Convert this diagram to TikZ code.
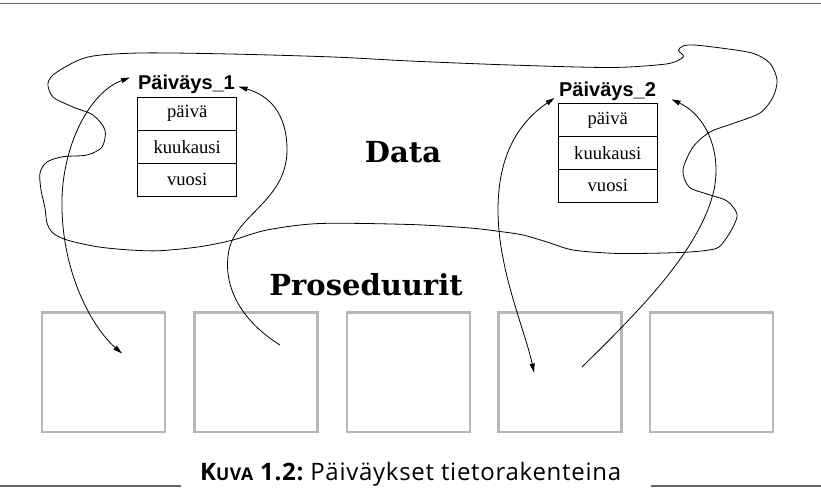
\documentclass[tikz,border=0pt]{standalone}
\usepackage{fontspec}
\usetikzlibrary{arrows.meta}
\newfontfamily\recfont{Liberation Serif}
\newfontfamily\namefont{Liberation Sans}
\newfontfamily\headfont{DejaVu Serif}
\newfontfamily\capfont[LetterSpace=3]{Open Sans}
\begin{document}
\begin{tikzpicture}[x=1pt,y=-1pt,
  field/.style={draw, line width=0.9pt, minimum width=99pt, minimum height=33pt,
    inner sep=0pt, font=\recfont\fontsize{18.6}{20}\selectfont},
  recname/.style={anchor=base, inner sep=0pt,
    font=\namefont\bfseries\fontsize{20}{22}\selectfont},
  heading/.style={anchor=base, inner sep=0pt, font=\headfont\bfseries\fontsize{29}{34}\selectfont},
  proc/.style={draw=black!28, line width=2.5pt, minimum width=123pt,
    minimum height=119.5pt, inner sep=0pt},
  outline/.style={line width=0.8pt},
  tip/.tip={Triangle[length=9pt,width=5pt]},
  link/.style={line width=0.8pt, -tip},
  dlink/.style={line width=0.8pt, tip-tip},
  rule/.style={draw=black!60, line width=1.5pt}
]
\useasboundingbox (0,0) rectangle (821,487);

% page rules
\draw[rule] (0,3.7) -- (821,3.7);
\draw[rule] (0,486) -- (181,486);
\draw[rule] (651,486) -- (821,486);

% the data area
\draw[outline] plot[smooth cycle, tension=0.5] coordinates {
  (88,57) (140,53) (230,54) (333,57) (410,61) (510,65) (610,67.5) (662,64.5)
  (677,61) (683.5,56) (678.5,50.5) (683,46) (694,45) (723,48.3) (753,53.3)
  (770,63.3) (777,80) (773,97)
  (760,113) (733,123.5) (710,132) (693,147) (683,170) (689,187) (707,194)
  (727,201) (737,214) (733,227) (725,240) (716,248.5) (690,252) (650,253.3)
  (613,253.3) (573,250) (547,242) (523,235) (500,231.5) (470,228) (410,224.5)
  (320,223.5) (267,230) (233,240) (200,246.7) (160,250.7) (130,250) (97,246.7)
  (67,240) (53,233) (47,223) (45,208) (41,190) (40,173) (47,162) (63,156.7)
  (87,155) (102,147) (105,130) (93,115) (73,107) (53,97) (48,83) (57,72)};

\node[heading] (data) at (403,162.3) {Data};
\node[heading] (procs) at (366,295) {Proseduurit};

% first date record
\node[recname] (lab1) at (186.5,89.5) {Päiväys\_1};
\node[field] (d1) at (187.2,113.8) {päivä};
\node[field] (m1) at (187.2,146.8) {kuukausi};
\node[field] (y1) at (187.2,179.7) {vuosi};

% second date record
\node[recname] (lab2) at (607.5,96.5) {Päiväys\_2};
\node[field] (d2) at (607.8,120.3) {päivä};
\node[field] (m2) at (607.8,153) {kuukausi};
\node[field] (y2) at (607.8,185.8) {vuosi};

% procedures
\foreach \i/\x in {1/103.5,2/256,3/408.5,4/560,5/711.5}
  \node[proc] (p\i) at (\x,372) {};

% connector ends
\coordinate (l1w) at (130,77.5);
\coordinate (l1e) at (238.5,86.7);
\coordinate (l2w) at (554.5,98);
\coordinate (l2e) at (671.5,99.3);
\coordinate (in1) at (122,353.5);
\coordinate (in2) at (280,345);
\coordinate (in4a) at (534,372.5);
\coordinate (in4b) at (582,367);

% references between procedures and records
\draw[dlink] (l1w) .. controls (88,93) and (60,150) .. (62,210)
                   .. controls (64,280) and (95,330) .. (in1);
\draw[link] (in2) .. controls (240,320) and (222,285) .. (229,250)
                  .. controls (236,215) and (287,200) .. (287,150)
                  .. controls (287,112) and (268,95) .. (l1e);
\draw[dlink] (l2w) .. controls (515,125) and (498,160) .. (498,210)
                   .. controls (498,270) and (525,330) .. (in4a);
\draw[link] (in4b) .. controls (640,310) and (700,250) .. (714,190)
                   .. controls (722,150) and (705,115) .. (l2e);

% caption
\node[anchor=base west, inner sep=0pt, font=\capfont\fontsize{24}{27}\selectfont] (cap) at (200,480)
  {\bfseries K{\fontsize{17.5}{20}\selectfont UVA} 1.2:\ \mdseries Päiväykset tietorakenteina};
\end{tikzpicture}
\end{document}
